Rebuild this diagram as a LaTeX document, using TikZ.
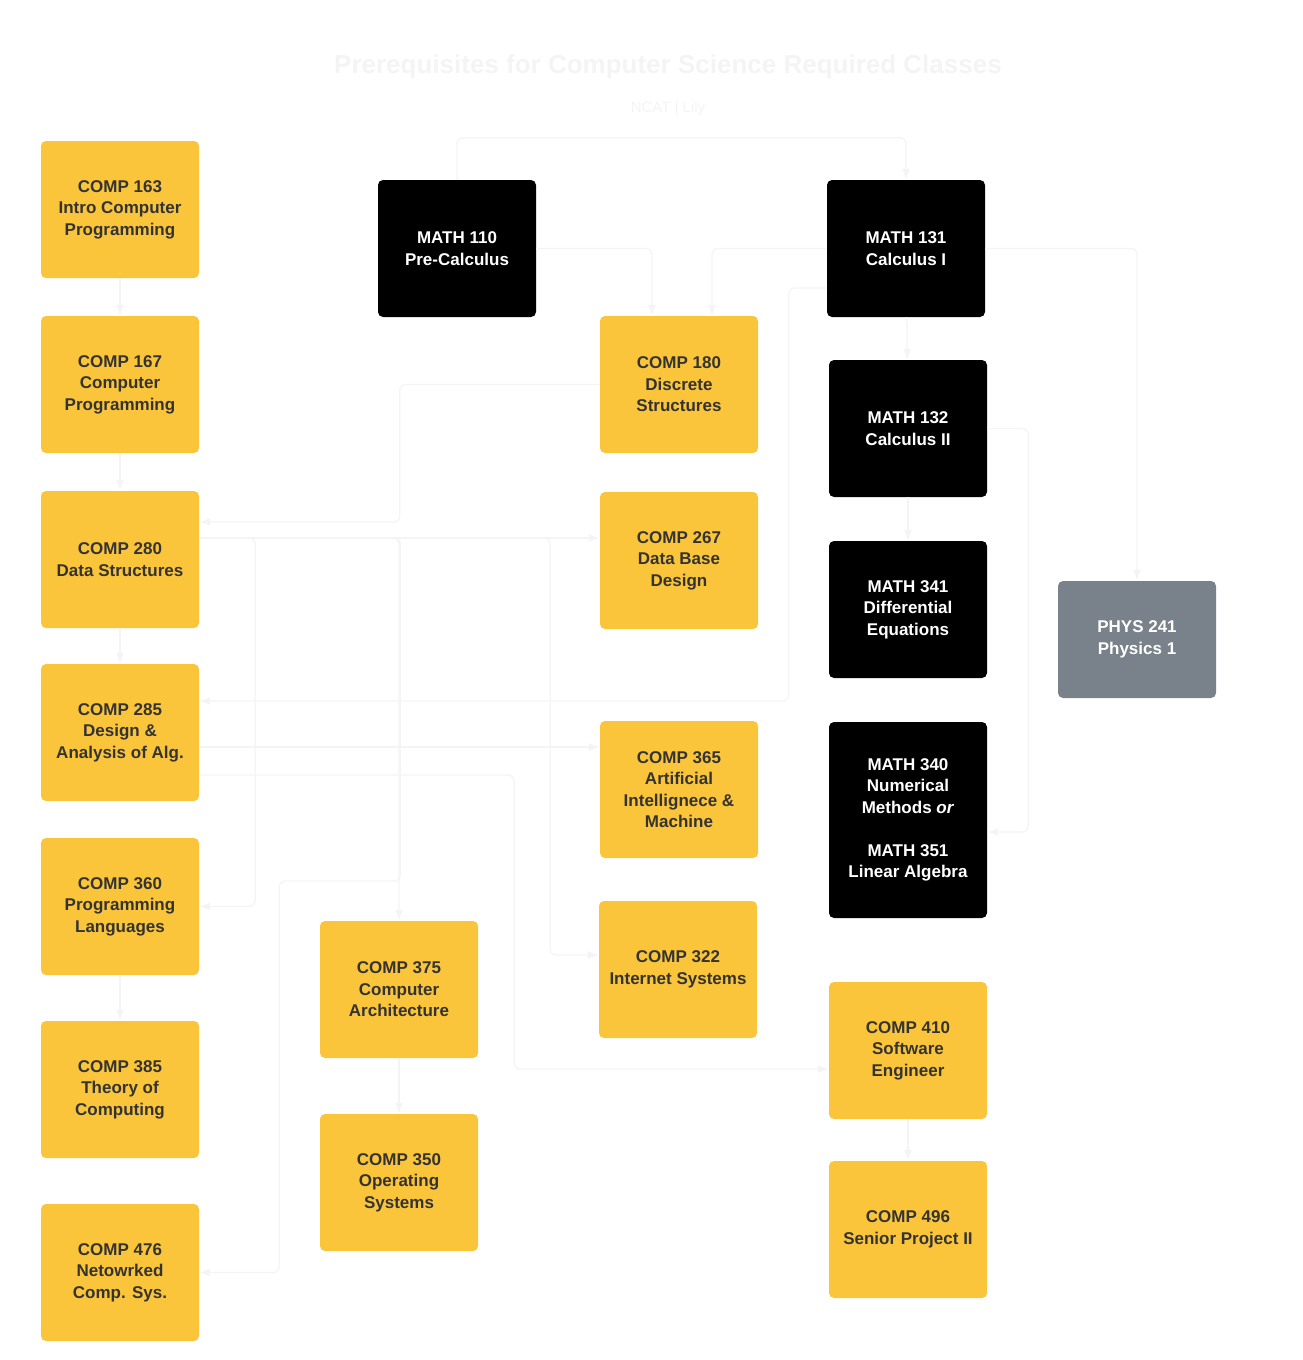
\documentclass[tikz,border=0pt]{standalone}
\usepackage{fontspec}
\setmainfont{Liberation Sans}
\usetikzlibrary{arrows.meta}
\definecolor{compyellow}{HTML}{FBC53B}
\definecolor{physgray}{HTML}{79818A}
\definecolor{boxtext}{HTML}{333333}
\definecolor{faint}{HTML}{F4F4F4}
\tikzset{
    course/.style={rectangle, rounded corners=5pt, minimum width=158pt, minimum height=137pt,
        inner sep=0pt, align=center, font=\bfseries\fontsize{17}{21.5}\selectfont},
    compbox/.style={course, fill=compyellow, text=boxtext},
    mathbox/.style={course, fill=black, text=white},
    physbox/.style={course, fill=physgray, text=white, minimum height=117pt},
    link/.style={draw=faint, line width=1.3pt, rounded corners=6pt, -{Latex[length=11pt,width=8pt]}}
}
\begin{document}
\begin{tikzpicture}[x=1pt, y=-1pt]
    \useasboundingbox (0,0) rectangle (1302,1360);

    % Title
    \node[text=faint, font=\bfseries\fontsize{26}{30}\selectfont] (title) at (668,67)
        {Prerequisites for Computer Science Required Classes};
    \node[text=faint, font=\fontsize{15}{18}\selectfont] (author) at (668,109) {NCAT | Lily};

    % Left column
    \node[compbox] (c163) at (120,209.5) {COMP 163\\Intro Computer\\Programming};
    \node[compbox] (c167) at (120,384.5) {COMP 167\\Computer\\Programming};
    \node[compbox] (c280) at (120,559.5) {COMP 280\\Data Structures};
    \node[compbox] (c285) at (120,732.5) {COMP 285\\Design \&\\Analysis of Alg.};
    \node[compbox] (c360) at (120,906.5) {COMP 360\\Programming\\Languages};
    \node[compbox] (c385) at (120,1089.5) {COMP 385\\Theory of\\Computing};
    \node[compbox] (c476) at (120,1272.5) {COMP 476\\Netowrked\\Comp. Sys.};

    % Middle columns
    \node[mathbox] (m110) at (457,248.5) {MATH 110\\Pre-Calculus};
    \node[compbox] (c375) at (399,989.5) {COMP 375\\Computer\\Architecture};
    \node[compbox] (c350) at (399,1182.5) {COMP 350\\Operating\\Systems};
    \node[compbox] (c180) at (679,384.5) {COMP 180\\Discrete\\Structures};
    \node[compbox] (c267) at (679,560.5) {COMP 267\\Data Base\\Design};
    \node[compbox] (c365) at (679,789.5) {COMP 365\\Artificial\\Intellignece \&\\Machine};
    \node[compbox] (c322) at (678,969.5) {COMP 322\\Internet Systems};

    % Math column
    \node[mathbox] (m131) at (906,248.5) {MATH 131\\Calculus I};
    \node[mathbox] (m132) at (908,428.5) {MATH 132\\Calculus II};
    \node[mathbox] (m341) at (908,609.5) {MATH 341\\Differential\\Equations};
    \node[mathbox, minimum height=196pt] (m340) at (908,820)
        {MATH 340\\Numerical\\Methods \textit{or}\\~\\MATH 351\\Linear Algebra};
    \node[compbox] (c410) at (908,1050.5) {COMP 410\\Software\\Engineer};
    \node[compbox] (c496) at (908,1229.5) {COMP 496\\Senior Project II};
    \node[physbox] (p241) at (1137,639.5) {PHYS 241\\Physics 1};

    % Straight prerequisites
    \draw[link] (c163) -- (c167);
    \draw[link] (c167) -- (c280);
    \draw[link] (c280) -- (c285);
    \draw[link] (c360) -- (c385);
    \draw[link] (c375) -- (c350);
    \draw[link] (m131) -- (m132);
    \draw[link] (m132) -- (m341);
    \draw[link] (c410) -- (c496);

    % Math routes
    \draw[link] (m110.north) -- ++(0,-42) -| (m131.north);
    \draw[link] (m110.east) -| ([xshift=-27pt]c180.north);
    \draw[link] (m131.west) -| ([xshift=33pt]c180.north);
    \draw[link] (m131.east) -| (p241.north);
    \draw[link] (m132.east) -- ++(41,0) |- ([yshift=-12pt]m340.east);
    \draw[link] ([yshift=-39.5pt]m131.west) -- ++(-38,0) |- ([yshift=31.5pt]c285.east);

    % Routes out of COMP 180, 280 and 285
    \draw[link] (c180.west) -- ++(-200,0) |- ([yshift=37.5pt]c280.east);
    \coordinate (j280) at ([yshift=21.5pt]c280.east);
    \draw[link] (j280) -- (j280 -| c267.west);
    \draw[link] (j280) -- ++(56,0) |- (c360.east);
    \draw[link] (j280) -| (c375.north);
    \draw[link] (j280) -- ++(351,0) |- ([yshift=14.5pt]c322.west);
    \draw[link] (j280) -- ++(201,0) -- ++(0,343) -- ++(-121,0) |- (c476.east);
    \coordinate (j285a) at ([yshift=-14.5pt]c285.east);
    \draw[link] (j285a) -- (j285a -| c365.west);
    \draw[link] ([yshift=-42.5pt]c285.east) -- ++(315,0) |- ([yshift=-18.5pt]c410.west);
\end{tikzpicture}
\end{document}
